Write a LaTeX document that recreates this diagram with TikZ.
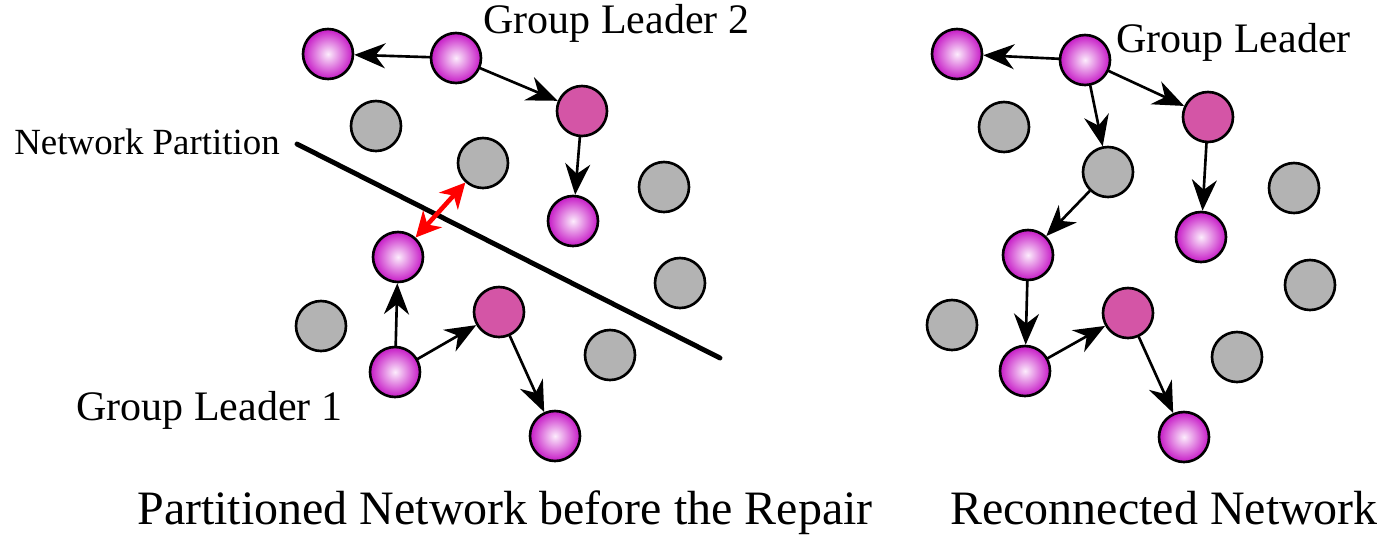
\documentclass[tikz,border=0pt]{standalone}
\usepackage{fontspec}
\setmainfont{Liberation Serif}
\usetikzlibrary{arrows.meta}

\definecolor{ballout}{RGB}{198,25,198}
\definecolor{ballin}{RGB}{252,236,252}
\definecolor{leadfill}{RGB}{212,85,166}
\definecolor{idlegray}{RGB}{179,179,179}

\newcommand{\tagfont}{\fontsize{23.9pt}{28pt}\selectfont}
\newcommand{\titlefont}{\fontsize{27.3pt}{30pt}\selectfont}
\newcommand{\cutfont}{\fontsize{21pt}{24pt}\selectfont}

\begin{document}
\begin{tikzpicture}[x=0.02cm, y=-0.02cm, line cap=round, line join=round,
  >={Stealth[length=0.62cm,width=0.5cm,inset=0.2cm]},
  dot/.style={circle, draw, line width=1.5pt, minimum size=1cm, inner sep=0pt},
  ball/.style={dot, shading=radial, inner color=ballin, outer color=ballout},
  leader/.style={dot, fill=leadfill},
  idle/.style={dot, fill=idlegray},
  link/.style={->, line width=1.5pt},
  words/.style={anchor=base west, inner sep=0pt}]

\useasboundingbox (0,0) rectangle (1380,535);

% partitioned network
\node[ball] (a1) at (328,54) {};
\node[ball] (a2) at (456,58) {};
\node[leader] (a3) at (582,111) {};
\node[ball] (a4) at (573,221) {};

\node[idle] (g1) at (376,126) {};
\node[idle] (g2) at (483,163) {};
\node[idle] (g3) at (664,187) {};
\node[idle] (g4) at (680,283) {};
\node[idle] (g5) at (321,326) {};
\node[idle] (g6) at (610,355) {};

\node[ball] (b1) at (398,257) {};
\node[ball] (b2) at (395,372) {};
\node[leader] (b3) at (499,312) {};
\node[ball] (b4) at (555,436) {};

\draw[link] (a2) -- (a1);
\draw[link] (a2) -- (a3);
\draw[link] (a3) -- (a4);
\draw[link] (b2) -- (b1);
\draw[link] (b2) -- (b3);
\draw[link] (b3) -- (b4);

\coordinate (cut1) at (297,144);
\coordinate (cut2) at (720,358);
\draw[line width=2.8pt] (cut1) -- (cut2);

\draw[<->, red, line width=2.6pt, >={Stealth[length=0.5cm,width=0.5cm,inset=0.15cm]}] (b1) -- (g2);

\node[words, font=\tagfont] (gl2) at (483,33) {Group Leader 2};
\node[words, font=\tagfont] (gl1) at (76,420) {Group Leader 1};
\node[words, font=\cutfont] (cut) at (14,154) {Network Partition};

% reconnected network
\node[ball] (r1) at (957,54) {};
\node[ball] (r2) at (1085,60) {};
\node[leader] (r3) at (1208,117) {};
\node[ball] (r4) at (1201,237) {};
\node[ball] (r5) at (1028,255) {};
\node[ball] (r6) at (1025,371) {};
\node[leader] (r7) at (1128,313) {};
\node[ball] (r8) at (1184,437) {};

\node[idle] (h1) at (1004,127) {};
\node[idle] (h2) at (1108,172) {};
\node[idle] (h3) at (952,325) {};
\node[idle] (h4) at (1294,188) {};
\node[idle] (h5) at (1310,285) {};
\node[idle] (h6) at (1237,357) {};

\draw[link] (r2) -- (r1);
\draw[link] (r2) -- (r3);
\draw[link] (r2) -- (h2);
\draw[link] (r3) -- (r4);
\draw[link] (h2) -- (r5);
\draw[link] (r5) -- (r6);
\draw[link] (r6) -- (r7);
\draw[link] (r7) -- (r8);

\node[words, font=\tagfont] (gl) at (1116,52) {Group Leader};

\node[words, font=\titlefont] (left) at (137,524) {Partitioned Network before the Repair};
\node[words, font=\titlefont] (right) at (950,524) {Reconnected Network};
\end{tikzpicture}
\end{document}
